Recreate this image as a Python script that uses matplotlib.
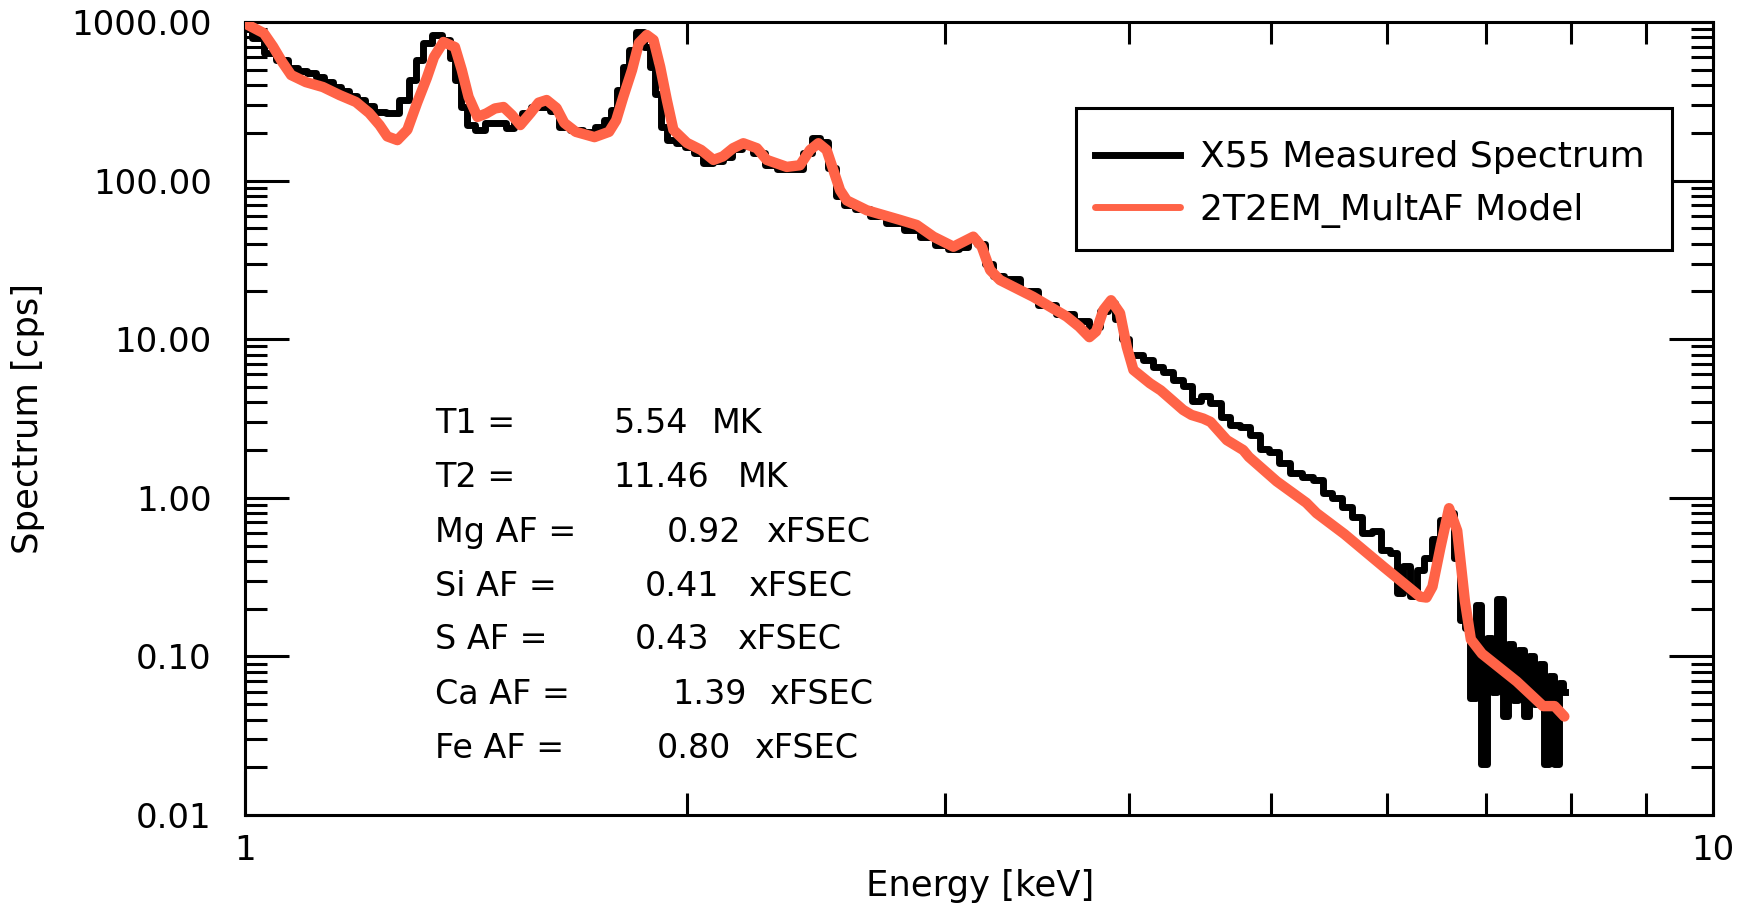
import matplotlib

matplotlib.use("Agg")
import matplotlib.pyplot as plt
from matplotlib.patches import Rectangle
from matplotlib.ticker import FixedLocator, NullFormatter, FixedFormatter

# measured spectrum (bin centre energy in keV, counts per second)
MEAS_E = [
    1.003, 1.02, 1.04, 1.06, 1.08, 1.095, 1.11, 1.125, 1.14, 1.155, 1.17, 1.185,
    1.20, 1.215, 1.235, 1.26, 1.285, 1.30, 1.315, 1.33, 1.35, 1.372, 1.385, 1.397,
    1.41, 1.425, 1.445, 1.47, 1.495, 1.515, 1.535, 1.555, 1.575, 1.60, 1.625, 1.65,
    1.68, 1.72, 1.745, 1.765, 1.785, 1.80, 1.82, 1.835, 1.86, 1.88, 1.895, 1.91,
    1.93, 1.95, 1.98, 2.01, 2.035, 2.07, 2.10, 2.13, 2.16, 2.20, 2.24, 2.28,
    2.33, 2.38, 2.42, 2.45, 2.48, 2.51, 2.54, 2.58, 2.63, 2.70, 2.77, 2.85,
    2.92, 2.98, 3.04, 3.09, 3.13, 3.17, 3.21, 3.26, 3.32, 3.42, 3.52, 3.62,
    3.72, 3.80, 3.85, 3.89, 3.94, 3.98, 4.02, 4.06, 4.125, 4.19, 4.256, 4.323,
    4.39, 4.448, 4.508, 4.58, 4.66, 4.72, 4.80, 4.88, 4.95, 5.02, 5.10, 5.20,
    5.30, 5.38, 5.46, 5.55, 5.63, 5.72, 5.81, 5.90, 5.99, 6.06, 6.12, 6.18,
    6.25, 6.32, 6.40, 6.48, 6.56, 6.63, 6.70, 6.75, 6.80, 6.86, 6.92, 6.98,
    7.04, 7.10, 7.16, 7.22, 7.28, 7.34, 7.40, 7.46, 7.52, 7.58, 7.64, 7.70,
    7.76, 7.82, 7.88, 7.93,
]
MEAS_CPS = [
    900, 790, 640, 580, 515, 490, 477, 450, 418, 389, 368, 341,
    322, 296, 271, 265, 322, 431, 576, 737, 828, 770, 590, 431,
    291, 224, 209, 231, 231, 214, 231, 267, 291, 291, 275, 218,
    209, 203, 218, 240, 278, 372, 520, 666, 865, 695, 520, 350,
    218, 180, 173, 162, 149, 130, 132, 140, 158, 165, 150, 125,
    118, 118, 150, 185, 175, 120, 80, 70, 66, 60, 54, 49,
    44, 39, 37, 38, 43, 40, 30, 25, 24, 20, 16.5, 14.5,
    13, 12, 15, 17, 13.5, 10, 8.0, 7.9, 7.4, 6.7, 6.2, 5.5,
    5.1, 4.1, 4.4, 3.97, 3.24, 2.88, 2.8, 2.5, 2.04, 1.95, 1.65, 1.43,
    1.36, 1.3, 1.07, 1.0, 0.88, 0.76, 0.60, 0.62, 0.47, 0.45, 0.25, 0.37,
    0.24, 0.35, 0.42, 0.55, 0.72, 0.80, 0.42, 0.17, 0.15, 0.055, 0.21, 0.021,
    0.13, 0.06, 0.23, 0.042, 0.12, 0.053, 0.11, 0.042, 0.10, 0.05, 0.09, 0.021,
    0.075, 0.021, 0.068, 0.06,
]

# 2T2EM_MultAF model
MODEL_E = [
    1.000, 1.03, 1.045, 1.06, 1.075, 1.10, 1.13, 1.16, 1.19, 1.215, 1.235, 1.25,
    1.27, 1.29, 1.31, 1.33, 1.345, 1.365, 1.39, 1.405, 1.42, 1.44, 1.46, 1.48,
    1.50, 1.52, 1.54, 1.565, 1.585, 1.605, 1.63, 1.65, 1.68, 1.73, 1.77, 1.79,
    1.81, 1.835, 1.855, 1.878, 1.898, 1.918, 1.938, 1.958, 2.00, 2.045, 2.085, 2.116,
    2.15, 2.185, 2.232, 2.267, 2.339, 2.388, 2.426, 2.458, 2.490, 2.516, 2.543, 2.570,
    2.652, 2.794, 2.868, 2.944, 3.038, 3.086, 3.134, 3.176, 3.218, 3.268, 3.443, 3.628,
    3.70, 3.76, 3.80, 3.844, 3.89, 3.945, 3.987, 4.029, 4.135, 4.205, 4.356, 4.413,
    4.495, 4.547, 4.665, 4.786, 4.829, 5.044, 5.284, 5.37, 5.61, 5.963, 6.316, 6.38,
    6.44, 6.52, 6.61, 6.695, 6.776, 6.84, 6.96, 7.35, 7.66, 7.80, 7.92,
]
MODEL_CPS = [
    980, 850, 700, 560, 463, 418, 389, 346, 313, 267, 224, 190,
    180, 209, 310, 444, 601, 748, 695, 498, 337, 252, 265, 285,
    291, 259, 224, 267, 310, 322, 287, 231, 203, 188, 203, 240,
    337, 498, 737, 828, 770, 520, 322, 209, 173, 156, 135, 142,
    160, 172, 160, 135, 122, 125, 156, 172, 156, 117, 87, 75,
    65, 56.5, 52.5, 44.3, 38.3, 41.2, 44.3, 38.3, 27.3, 23.6, 18.5, 13.9,
    12.0, 10.3, 11.2, 15.3, 17.6, 14.6, 8.97, 6.4, 5.27, 4.76, 3.58, 3.33,
    3.16, 3.01, 2.31, 2.0, 1.81, 1.27, 0.93, 0.80, 0.59, 0.368, 0.238, 0.235,
    0.275, 0.482, 0.86, 0.62, 0.224, 0.128, 0.104, 0.0695, 0.0486, 0.0486, 0.0418,
]

PARAM_NAMES = ["T1 =", "T2 =", "Mg AF =", "Si AF =", "S AF =", "Ca AF =", "Fe AF ="]
PARAM_VALUES = ["5.54", "11.46", "0.92", "0.41", "0.43", "1.39", "0.80"]
PARAM_UNITS = ["MK", "MK", "xFSEC", "xFSEC", "xFSEC", "xFSEC", "xFSEC"]

Y_TICKS = [0.01, 0.1, 1, 10, 100, 1000]
RED = "#ff6347"

W, H = 1748, 907
fig = plt.figure(figsize=(W / 100, H / 100), dpi=100)
ax = fig.add_axes([245 / W, 1 - 815 / H, (1713 - 245) / W, (815 - 22) / H])

ax.plot(MEAS_E, MEAS_CPS, drawstyle="steps-mid", color="black", lw=5,
        label="X55 Measured Spectrum", zorder=2)
ax.plot(MODEL_E, MODEL_CPS, color=RED, lw=7.5, solid_joinstyle="round",
        solid_capstyle="round", label="2T2EM_MultAF Model", zorder=3)

ax.set_xscale("log")
ax.set_yscale("log")
ax.set_xlim(1, 10)
ax.set_ylim(0.01, 1000)

ax.xaxis.set_major_locator(FixedLocator([1, 10]))
ax.xaxis.set_major_formatter(FixedFormatter(["1", "10"]))
ax.xaxis.set_minor_locator(FixedLocator(list(range(2, 10))))
ax.xaxis.set_minor_formatter(NullFormatter())
ax.yaxis.set_major_locator(FixedLocator(Y_TICKS))
ax.yaxis.set_major_formatter(FixedFormatter([f"{v:.2f}" for v in Y_TICKS]))
minors = [m * d for d in Y_TICKS[:-1] for m in range(2, 10)]
ax.yaxis.set_minor_locator(FixedLocator(minors))
ax.yaxis.set_minor_formatter(NullFormatter())

ax.tick_params(which="both", direction="in", top=True, right=True, width=2.2,
               labelsize=24.5)
ax.tick_params(which="major", length=32)
ax.tick_params(which="minor", length=16)
ax.tick_params(axis="y", pad=24)
ax.tick_params(axis="x", pad=14)
for s in ax.spines.values():
    s.set_linewidth(2.2)

fig.text(28 / W, 1 - 418 / H, "Spectrum [cps]", rotation=90, ha="center",
         va="center", fontsize=25.5)
fig.text(980 / W, 1 - 886 / H, "Energy [keV]", ha="center", va="center",
         fontsize=25.5)

# legend: box drawn by hand so its size matches, entries placed inside it
box = Rectangle((1076 / W, 1 - 250 / H), (1672 - 1076) / W, (250 - 108) / H,
                transform=fig.transFigure, facecolor="white",
                edgecolor="black", lw=2.2, zorder=4, clip_on=False)
ax.add_patch(box)
leg = ax.legend(loc="center left", bbox_to_anchor=(1095 / W, 1 - 184 / H),
                bbox_transform=fig.transFigure, borderaxespad=0, borderpad=0,
                fontsize=26, handlelength=2.35, handletextpad=0.55,
                labelspacing=0.5, frameon=False)
leg.set_zorder(5)
for line in leg.get_lines():
    line.set_linewidth(5)

baselines = [433, 487, 542, 596, 649, 704, 758]
value_x = [613, 613, 667, 645, 635, 672, 657]
unit_x = [712, 738, 766, 748, 737, 769, 754]
for i, name in enumerate(PARAM_NAMES):
    yb = 1 - baselines[i] / H
    fig.text(435 / W, yb, name, fontsize=24, va="baseline")
    fig.text(value_x[i] / W, yb, PARAM_VALUES[i], fontsize=24, va="baseline")
    fig.text(unit_x[i] / W, yb, PARAM_UNITS[i], fontsize=24, va="baseline")

fig.savefig("out.png", dpi=100)
